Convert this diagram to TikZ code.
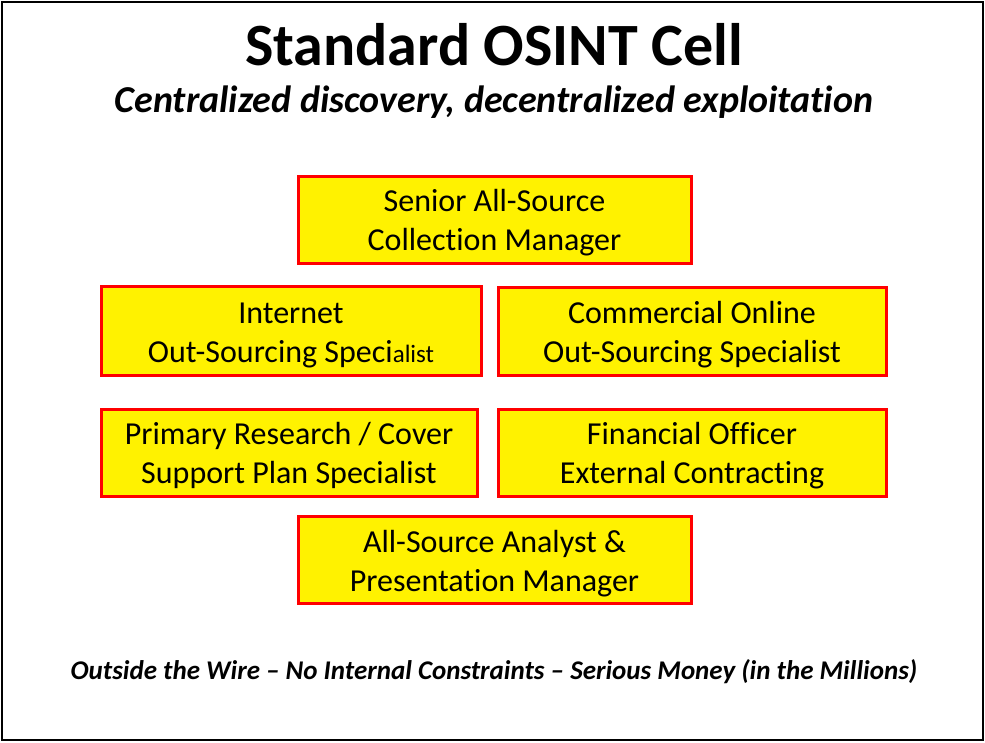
\documentclass[tikz,border=0pt]{standalone}
\usepackage{fontspec}
\setmainfont[Ligatures={NoCommon}]{Carlito}
\newcommand\liftrule{\rule{0pt}{29pt}}
\begin{document}
\begin{tikzpicture}[x=1pt,y=-1pt,
  role/.style={draw=red, fill=yellow, line width=3pt, inner sep=0pt, align=center,
    font=\fontsize{32}{39}\selectfont},
  frame/.style={draw=black, line width=2pt}]
\useasboundingbox (0,0) rectangle (985,742);
\draw[frame] (2,2) rectangle (983,740);
\node[font=\bfseries\fontsize{60}{60}\selectfont] (title) at (494,45) {Standard OSINT Cell};
\node[font=\bfseries\itshape\fontsize{38}{38}\selectfont] (sub) at (494,102) {Centralized discovery, decentralized exploitation};
\node[role, minimum width=393pt, minimum height=87pt] (senior) at (494.5,219.5) {\liftrule Senior All-Source\\Collection Manager};
\node[role, minimum width=380pt, minimum height=89pt] (internet) at (291,331) {\liftrule Internet\\Out-Sourcing Speci{\fontsize{25}{39}\selectfont alist}};
\node[role, minimum width=388pt, minimum height=88pt] (commercial) at (692,331) {\liftrule Commercial Online\\Out-Sourcing Specialist};
\node[role, minimum width=376pt, minimum height=87pt] (primary) at (289,452.5) {\liftrule Primary Research / Cover\\Support Plan Specialist};
\node[role, minimum width=388pt, minimum height=87pt] (financial) at (692,452.5) {\liftrule Financial Officer\\External Contracting};
\node[role, minimum width=393pt, minimum height=87pt] (analyst) at (494.5,560) {\liftrule All-Source Analyst \&\\Presentation Manager};
\node[font=\bfseries\itshape\fontsize{27}{27}\selectfont] (foot) at (494,672) {Outside the Wire -- No Internal Constraints -- Serious Money (in the Millions)};
\end{tikzpicture}
\end{document}
